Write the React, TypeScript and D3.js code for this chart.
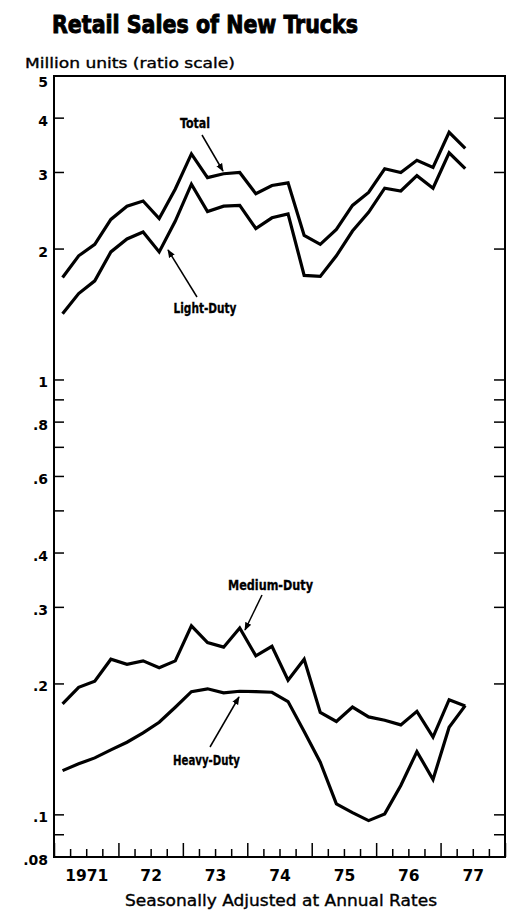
import React from "react";
import * as d3 from "d3";

const quarters = [
  "1971Q1", "1971Q2", "1971Q3", "1971Q4",
  "1972Q1", "1972Q2", "1972Q3", "1972Q4",
  "1973Q1", "1973Q2", "1973Q3", "1973Q4",
  "1974Q1", "1974Q2", "1974Q3", "1974Q4",
  "1975Q1", "1975Q2", "1975Q3", "1975Q4",
  "1976Q1", "1976Q2", "1976Q3", "1976Q4",
  "1977Q1", "1977Q2",
];

const total = [1.72, 1.93, 2.05, 2.34, 2.51, 2.58, 2.35, 2.75, 3.31, 2.92, 2.98, 3.0, 2.68, 2.8, 2.84, 2.15, 2.05, 2.22, 2.52, 2.7, 3.06, 3.0, 3.2, 3.08, 3.71, 3.41];
const lightDuty = [1.42, 1.58, 1.69, 1.97, 2.11, 2.19, 1.97, 2.32, 2.82, 2.44, 2.51, 2.52, 2.23, 2.36, 2.41, 1.74, 1.73, 1.93, 2.2, 2.43, 2.76, 2.72, 2.95, 2.76, 3.33, 3.06];
const mediumDuty = [0.18, 0.1965, 0.203, 0.228, 0.222, 0.226, 0.218, 0.226, 0.272, 0.249, 0.243, 0.269, 0.232, 0.244, 0.204, 0.228, 0.172, 0.164, 0.177, 0.168, 0.165, 0.161, 0.173, 0.151, 0.184, 0.178];
const heavyDuty = [0.1264, 0.131, 0.1352, 0.1411, 0.1469, 0.1543, 0.1633, 0.1768, 0.192, 0.1949, 0.1908, 0.1924, 0.192, 0.1914, 0.1822, 0.1554, 0.1321, 0.106, 0.1012, 0.097, 0.1005, 0.1168, 0.1398, 0.1206, 0.159, 0.1783];

const yTickValues = [5, 4, 3, 2, 1, 0.9, 0.8, 0.7, 0.6, 0.5, 0.4, 0.3, 0.2, 0.1, 0.09, 0.08];
const yTickLabels: Record<string, string> = {
  "5": "5", "4": "4", "3": "3", "2": "2", "1": "1",
  "0.8": ".8", "0.6": ".6", "0.4": ".4", "0.3": ".3", "0.2": ".2", "0.1": ".1", "0.08": ".08",
};
const yearLabels = ["1971", "72", "73", "74", "75", "76", "77"];
const yearStart = 1971;
const yearEnd = 1978;

const title = "Retail Sales of New Trucks";
const unitLabel = "Million units (ratio scale)";
const footLabel = "Seasonally Adjusted at Annual Rates";

const W = 516;
const H = 910;
const L = 54, R = 505, T = 76, B = 857;

const x = d3.scaleLinear().domain([yearStart, yearEnd]).range([54.5, 505.5]);
const y = d3.scaleLog().domain([0.08, 5]).range([B, T]);

const qx = (q: string) => {
  const yr = +q.slice(0, 4);
  const n = +q.slice(5);
  return yr + (n - 0.5) / 4;
};

const line = d3
  .line<[string, number]>()
  .x((d) => x(qx(d[0])))
  .y((d) => y(d[1]));

const condensed = "'Liberation Sans Narrow', 'DejaVu Sans Condensed', 'Arial Narrow', sans-serif";
const geo = "'DejaVu Sans', Verdana, sans-serif";

const series = [total, lightDuty, mediumDuty, heavyDuty];

export default function App() {
  const qTicks = d3.range(yearStart * 4, yearEnd * 4 + 1).map((v) => v / 4);
  const annotations = [
    { text: "Total", cx: 195, by: 128, w: 30, ax1: 202, ay1: 135, ax2: 223, ay2: 171 },
    { text: "Light-Duty", cx: 205, by: 313, w: 63, ax1: 197, ay1: 297, ax2: 168, ay2: 250 },
    { text: "Medium-Duty", cx: 270.5, by: 590, w: 85, ax1: 262, ay1: 595, ax2: 245, ay2: 630 },
    { text: "Heavy-Duty", cx: 206.5, by: 765, w: 67, ax1: 210, ay1: 747, ax2: 239, ay2: 697 },
  ];
  return (
    <svg
      width={W}
      height={H}
      viewBox={`0 0 ${W} ${H}`}
      style={{ position: "absolute", left: 0, top: 0, background: "#fff" }}
    >
      <defs>
        <marker id="ah" viewBox="0 0 10 10" refX="9" refY="5" markerWidth="5.5" markerHeight="5.5" orient="auto">
          <path d="M0,1 L10,5 L0,9 Z" fill="#000" />
        </marker>
      </defs>
      <rect x={0} y={0} width={W} height={H} fill="#fff" />
      <text
        x={52}
        y={33}
        fontFamily={condensed}
        fontWeight="bold"
        fontSize={25}
        textLength={306}
        lengthAdjust="spacingAndGlyphs"
        stroke="#000"
        strokeWidth={0.9}
      >
        {title}
      </text>
      <text
        x={25}
        y={68}
        fontFamily={geo}
        fontSize={13.5}
        textLength={210}
        lengthAdjust="spacingAndGlyphs"
        stroke="#000"
        strokeWidth={0.35}
      >
        {unitLabel}
      </text>
      {/* frame */}
      <rect x={L} y={T} width={R - L} height={B - T} fill="none" stroke="#000" strokeWidth={2} />
      {/* y ticks */}
      {yTickValues.map((v) => (
        <g key={"yt" + v}>
          <line x1={L} x2={L + 10} y1={y(v)} y2={y(v)} stroke="#000" strokeWidth={1.5} />
          <line x1={R - 11} x2={R} y1={y(v)} y2={y(v)} stroke="#000" strokeWidth={1.5} />
          {yTickLabels[String(v)] ? (
            <text
              x={48}
              y={y(v) + (v === 5 ? 6 : 2.5)}
              textAnchor="end"
              dominantBaseline="central"
              fontFamily={geo}
              fontWeight="bold"
              fontSize={14}
            >
              {yTickLabels[String(v)]}
            </text>
          ) : null}
        </g>
      ))}
      {/* x ticks */}
      {qTicks.map((v) => {
        const isYear = Math.abs(v - Math.round(v)) < 1e-9;
        return (
          <line
            key={"xt" + v}
            x1={x(v)}
            x2={x(v)}
            y1={B}
            y2={B - (isYear ? 14 : 8)}
            stroke="#000"
            strokeWidth={1.5}
          />
        );
      })}
      {yearLabels.map((lab, i) => (
        <text
          key={lab}
          x={x(yearStart + i + 0.5)}
          y={881}
          textAnchor="middle"
          fontFamily={geo}
          fontWeight="bold"
          fontSize={15.5}
        >
          {lab}
        </text>
      ))}
      <text
        x={125}
        y={906}
        fontFamily={geo}
        fontSize={15}
        textLength={312}
        lengthAdjust="spacingAndGlyphs"
        stroke="#000"
        strokeWidth={0.35}
      >
        {footLabel}
      </text>
      {/* series */}
      {series.map((s, i) => (
        <path
          key={"s" + i}
          d={line(quarters.map((q, j) => [q, s[j]] as [string, number])) || ""}
          fill="none"
          stroke="#000"
          strokeWidth={3.2}
          strokeLinejoin="miter"
          strokeMiterlimit={3}
        />
      ))}
      {/* annotations */}
      {annotations.map((a) => (
        <g key={a.text}>
          <text
            x={a.cx - a.w / 2}
            y={a.by}
            fontFamily={condensed}
            fontWeight="bold"
            fontSize={14.5}
            textLength={a.w}
            lengthAdjust="spacingAndGlyphs"
            stroke="#000"
            strokeWidth={0.3}
          >
            {a.text}
          </text>
          <line x1={a.ax1} y1={a.ay1} x2={a.ax2} y2={a.ay2} stroke="#000" strokeWidth={1.5} markerEnd="url(#ah)" />
        </g>
      ))}
    </svg>
  );
}
